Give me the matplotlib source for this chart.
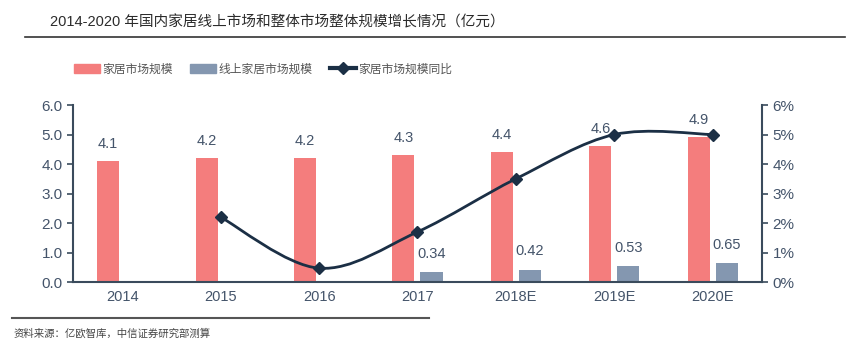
import numpy as np
import matplotlib
matplotlib.use('Agg')
import matplotlib.pyplot as plt
from matplotlib.path import Path
from matplotlib.patches import PathPatch, Patch
from matplotlib.lines import Line2D
from matplotlib import font_manager

plt.rcParams['font.family'] = ['Liberation Sans', 'Noto Sans CJK SC', 'DejaVu Sans']

years = ['2014', '2015', '2016', '2017', '2018E', '2019E', '2020E']
total = [4.1, 4.2, 4.2, 4.3, 4.4, 4.6, 4.9]
online = [None, None, None, 0.34, 0.42, 0.53, 0.65]
growth = [None, 2.2, 0.47, 1.7, 3.5, 5.0, 5.0]   # %

red = '#F47D7D'
blue = '#8497B0'
navy = '#1B2F45'
axc = '#3A4B5C'
txt = '#44546A'

names = {f.name for f in font_manager.fontManager.ttflist}
narrow = 'Liberation Sans Narrow' if 'Liberation Sans Narrow' in names else 'Liberation Sans'

fig = plt.figure(figsize=(8.49, 3.53), dpi=100)
ax = fig.add_axes([0.086, 0.201, 0.8115, 0.5015])
ax2 = ax.twinx()

x = np.arange(len(years))
w = 0.225
off = 0.143

ax.bar(x - off, total, width=w, color=red, zorder=2)
for xi, v in zip(x, total):
    ax.text(xi - off, v + 0.35, f'{v:.1f}', ha='center', va='bottom', fontsize=10.5, color=txt)

xo = [xi for xi, v in zip(x, online) if v is not None]
vo = [v for v in online if v is not None]
ax.bar(np.array(xo) + off, vo, width=w, color=blue, zorder=2)
for xi, v in zip(xo, vo):
    ax.text(xi + off, v + 0.38, f'{v:.2f}', ha='center', va='bottom', fontsize=10.5, color=txt)

# smoothed growth line (Catmull-Rom as cubic Bezier)
gx = [xi for xi, v in zip(x, growth) if v is not None]
gy = [v for v in growth if v is not None]
pts = np.column_stack([gx, gy]).astype(float)
verts = [tuple(pts[0])]
codes = [Path.MOVETO]
for i in range(len(pts) - 1):
    p0 = pts[i - 1] if i > 0 else pts[i]
    p1, p2 = pts[i], pts[i + 1]
    p3 = pts[i + 2] if i + 2 < len(pts) else pts[i + 1]
    c1 = p1 + (p2 - p0) / 6
    c2 = p2 - (p3 - p1) / 6
    verts += [tuple(c1), tuple(c2), tuple(p2)]
    codes += [Path.CURVE4] * 3
ax2.add_patch(PathPatch(Path(verts, codes), fill=False, edgecolor=navy, lw=2, zorder=3))
ax2.plot(gx, gy, ls='none', marker='D', ms=6, color=navy, zorder=4)

ax.set_xlim(-0.5, len(years) - 0.5)
ax.set_ylim(0, 6)
ax2.set_ylim(0, 6)
ax.set_yticks(np.arange(0, 6.1, 1))
ax.set_yticklabels([f'{t:.1f}' for t in np.arange(0, 6.1, 1)])
ax2.set_yticks(np.arange(0, 7, 1))
ax2.set_yticklabels([f'{t}%' for t in range(7)])
ax.set_xticks(x)
ax.set_xticklabels(years)

for a in (ax, ax2):
    a.spines['top'].set_visible(False)
    for s in ('left', 'right', 'bottom'):
        a.spines[s].set_color(axc)
        a.spines[s].set_linewidth(1.5)
    a.tick_params(axis='y', colors=axc, labelcolor=txt, labelsize=11, length=4, width=1.2)
ax.tick_params(axis='x', length=0, labelsize=10.5, labelcolor=txt, pad=6)
ax.spines['right'].set_visible(False)
ax2.spines['left'].set_visible(False)
ax2.spines['bottom'].set_visible(False)

fig.text(0.059, 0.937, '2014-2020 年国内家居线上市场和整体市场整体规模增长情况（亿元）',
         fontsize=10.5, color='#2B2B2B', va='center', family=[narrow, 'Noto Sans CJK SC'])
fig.add_artist(Line2D([0.03, 0.995], [0.895, 0.895], color='#333333', lw=1.2))

handles = [Patch(color=red), Patch(color=blue),
           Line2D([], [], color=navy, lw=3, marker='D', ms=6)]
labels = ['家居市场规模', '线上家居市场规模', '家居市场规模同比']
fig.legend(handles, labels, loc='center', bbox_to_anchor=(0.31, 0.805), ncol=3, frameon=False,
           labelcolor='#555555', handlelength=2.2, handleheight=0.8,
           columnspacing=1.5, handletextpad=0.2,
           prop={'family': ['Noto Sans CJK SC'], 'size': 8.5})

fig.add_artist(Line2D([0.014, 0.505], [0.098, 0.098], color='#555555', lw=1.5))
fig.text(0.016, 0.055, '资料来源：亿欧智库，中信证券研究部测算', fontsize=7.5, color='#444444',
         va='center', family=['Noto Sans CJK SC'])

fig.savefig('out.png', dpi=100, facecolor='white')
